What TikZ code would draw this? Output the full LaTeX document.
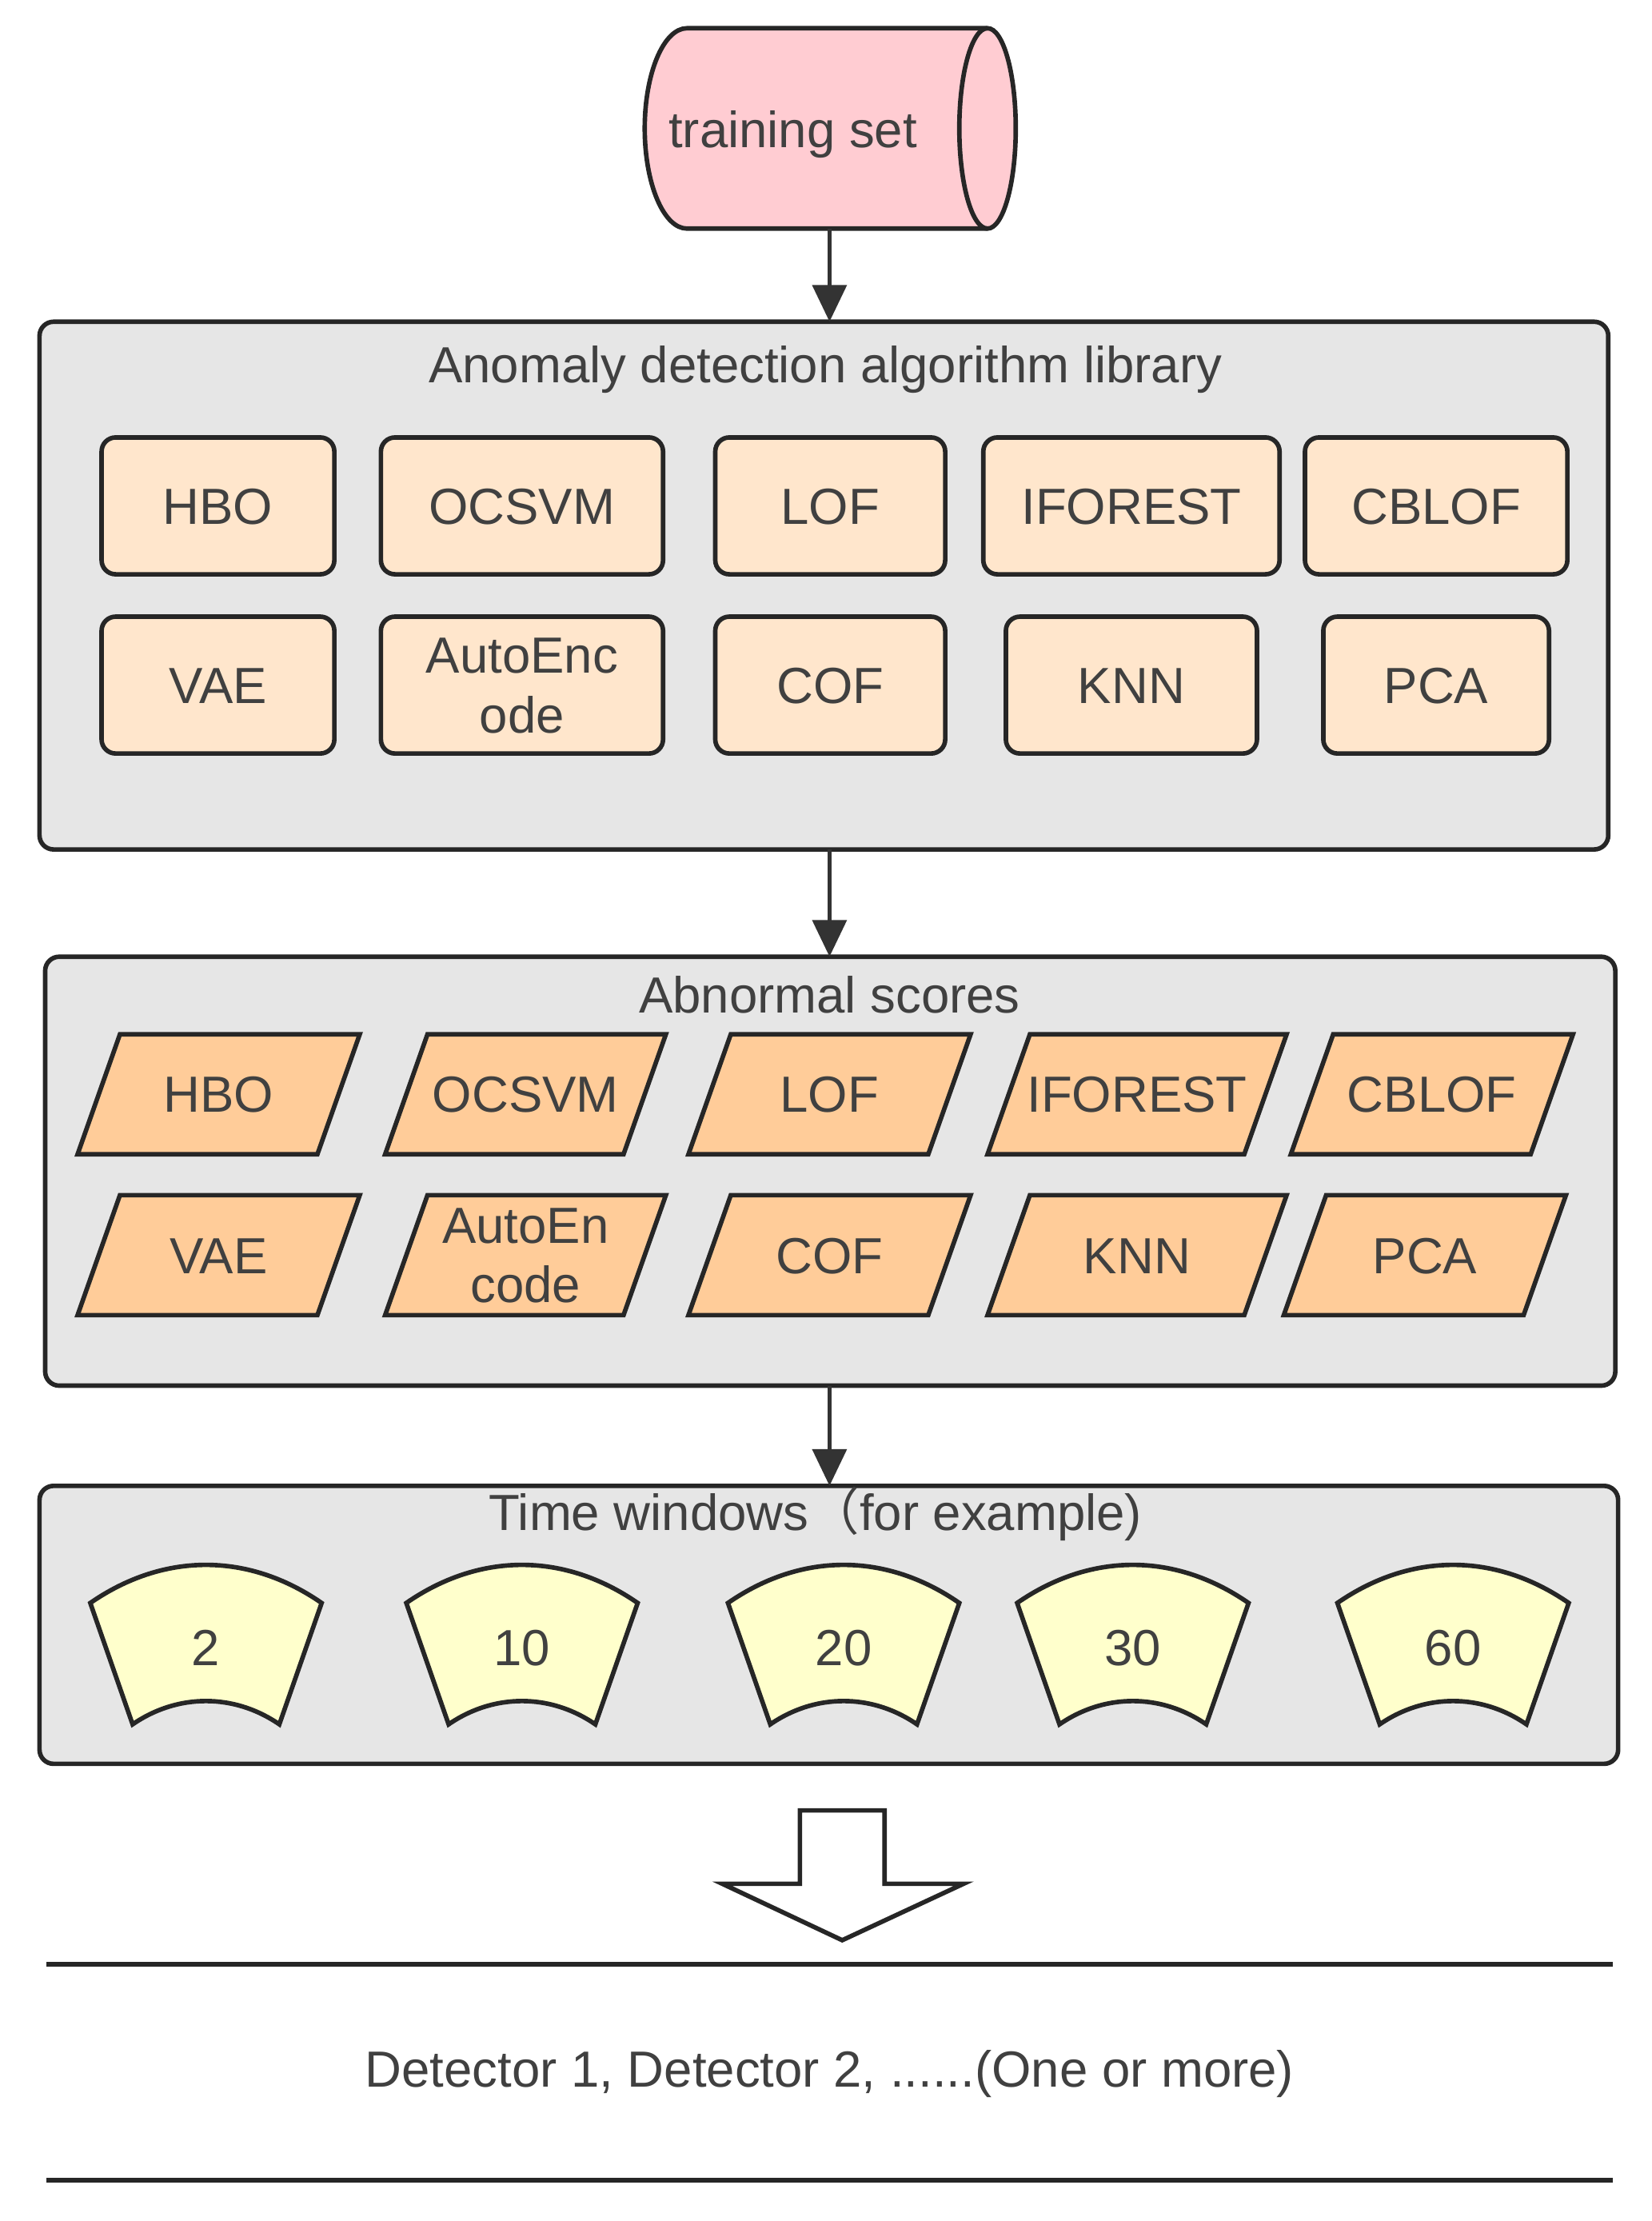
\documentclass[tikz,border=0pt]{standalone}
\usepackage{fontspec}
\setmainfont{Liberation Sans}
\newfontfamily\cjk{Noto Sans CJK SC}
\usetikzlibrary{shapes.geometric,arrows.meta}
\definecolor{pinkf}{HTML}{FFCCD2}
\definecolor{grayf}{HTML}{E6E6E6}
\definecolor{peach}{HTML}{FFE6CC}
\definecolor{orangef}{HTML}{FFCC99}
\definecolor{yel}{HTML}{FFFFCC}
\definecolor{txt}{HTML}{404040}
\begin{document}
\begin{tikzpicture}[x=0.5pt,y=-0.5pt,
  lw/.style={line width=1.6pt,draw=black!85},
  grp/.style={lw,fill=grayf,rounded corners=5pt},
  alg/.style={lw,fill=peach,rounded corners=5pt},
  par/.style={lw,fill=orangef},
  win/.style={lw,fill=yel},
  lab/.style={text=txt,font=\fontsize{18}{21}\selectfont,align=center},
  arr/.style={line width=1.6pt,draw=black!80,-{Triangle[length=13pt,width=12pt]}}]
\useasboundingbox (0,0) rectangle (1171,1574);
% cylinder
\draw[lw,fill=pinkf] (487,20) -- (700,20) arc[start angle=90,end angle=-90,x radius=10pt,y radius=35.5pt] -- (487,162) arc[start angle=270,end angle=90,x radius=15pt,y radius=35.5pt] -- cycle;
\draw[lw] (700,20) arc[start angle=90,end angle=270,x radius=10pt,y radius=35.5pt];
\node[lab] (ts) at (562,95) {training set};
\coordinate (tsb) at (588,162);
% box 1
\draw[grp] (28,228) rectangle (1140,602);
\node[lab] (t1) at (585,262) {Anomaly detection algorithm library};
\coordinate (b1t) at (588,228);\coordinate (b1b) at (588,602);
\foreach \a/\b/\y/\t/\n in {72/237/310/HBO/a1,270/470/310/OCSVM/a2,507/670/310/LOF/a3,697/907/310/IFOREST/a4,925/1111/310/CBLOF/a5,72/237/437/VAE/a6,270/470/437/{AutoEnc\\ode}/a7,507/670/437/COF/a8,713/891/437/KNN/a9,938/1098/437/PCA/a10}{
  \draw[alg] (\a,\y) rectangle (\b,\y+97);
  \node[lab] (\n) at ({(\a+\b)/2},\y+49) {\t};}
\draw[arr] (tsb) -- (b1t);
% box 2
\draw[grp] (32,678) rectangle (1145,982);
\node[lab] (t2) at (588,705) {Abnormal scores};
\coordinate (b2t) at (588,678);\coordinate (b2b) at (588,982);
\draw[arr] (b1b) -- (b2t);
\foreach \a/\b/\y/\t/\n in {55/255/733/HBO/p1,273/472/733/OCSVM/p2,488/688/733/LOF/p3,700/912/733/IFOREST/p4,915/1115/733/CBLOF/p5,55/255/847/VAE/p6,273/472/847/{AutoEn\\code}/p7,488/688/847/COF/p8,700/912/847/KNN/p9,910/1110/847/PCA/p10}{
  \draw[par] (\a+30,\y) -- (\b,\y) -- (\b-30,\y+85) -- (\a,\y+85) -- cycle;
  \node[lab] (\n) at ({(\a+\b)/2},\y+43) {\t};}
% box 3
\draw[grp] (28,1053) rectangle (1147,1250);
\node[lab] (t3) at (578,1073) {Time windows{\cjk （}for example)};
\coordinate (b3t) at (588,1053);
\draw[arr] (b2b) -- (b3t);
\foreach \x/\t/\n in {146/2/w1,370/10/w2,598/20/w3,803/30/w4,1030/60/w5}{
  \draw[win] (\x-82,1136) .. controls (\x-30,1100) and (\x+30,1100) .. (\x+82,1136) -- (\x+52,1222) .. controls (\x+20,1200) and (\x-20,1200) .. (\x-52,1222) -- cycle;
  \node[lab] (\n) at (\x,1168) {\t};}
% hollow arrow
\draw[lw,fill=white] (567,1283) -- (627,1283) -- (627,1335) -- (683,1335) -- (597,1375) -- (512,1335) -- (567,1335) -- cycle;
\coordinate (l1a) at (33,1392);\coordinate (l1b) at (1143,1392);
\coordinate (l2a) at (33,1545);\coordinate (l2b) at (1143,1545);
\draw[lw] (l1a) -- (l1b);
\draw[lw] (l2a) -- (l2b);
\node[lab] (det) at (588,1470) {Detector 1, Detector 2, ......(One or more)};
\end{tikzpicture}
\end{document}
